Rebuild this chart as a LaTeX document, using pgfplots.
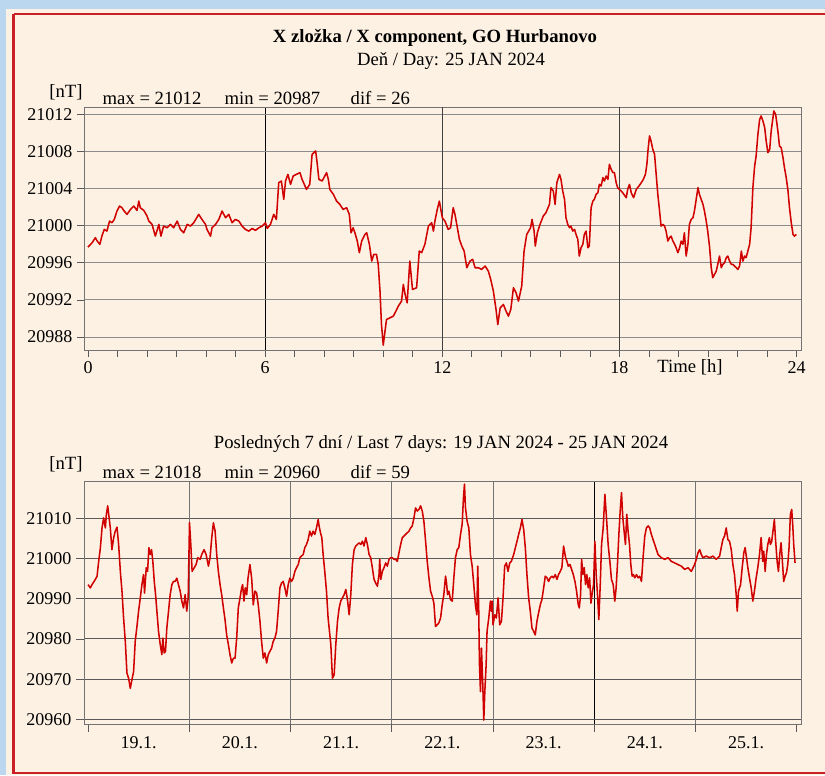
\documentclass[border=0pt]{standalone}
\usepackage{fontspec}
\setmainfont{Liberation Serif}
\usepackage{pgfplots}
\pgfplotsset{compat=1.18}
\definecolor{pageblue}{HTML}{BBD6EF}
\definecolor{cream}{HTML}{FDF1E3}
\definecolor{framered}{HTML}{CC2027}
\definecolor{curve}{HTML}{D00000}

\pgfplotsset{
  magplot/.style={
    scale only axis,
    tick align=outside, tick pos=left,
    major tick length=5.25pt, minor tick length=2.25pt,
    axis line style={draw=black!55, line width=0.7pt},
    tick style={draw=black!65, line width=0.6pt},
    ymajorgrids, major grid style={draw=black!45, line width=0.7pt},
    xminorgrids, minor grid style={draw=black, line width=0.7pt},
    tick label style={font=\fontsize{13.5}{15}\selectfont},
    scaled y ticks=false,
    /pgf/number format/assume math mode=true,
    /pgf/number format/1000 sep={},
    /pgf/number format/fixed, /pgf/number format/precision=0,
    minor y tick num=1,
    no markers
  },
  magline/.style={curve, line width=1.15pt, line join=round}
}

\begin{document}
\begin{tikzpicture}
\begin{scope}[x=0.75pt, y=-0.75pt]
  \fill[pageblue] (0,0) rectangle (825,775);
  \fill[cream] (6,9) rectangle (825,775);
  \draw[framered, line width=1.9pt] (13.5,14) -- (825,14);
  \draw[framered, line width=1.9pt] (13.5,14) -- (13.5,773) -- (825,773);

  \node[font=\bfseries\fontsize{14}{16}\selectfont] at (435,38) {X zložka / X component, GO Hurbanovo};
  \node[font=\fontsize{14}{16}\selectfont] at (451,61) {Deň / Day: 25 JAN 2024};
  \node[font=\fontsize{14}{16}\selectfont] at (66,92) {[nT]};
  \node[font=\fontsize{14}{16}\selectfont, anchor=west] at (98,98) {max = 21012};
  \node[font=\fontsize{14}{16}\selectfont, anchor=west] at (220,98) {min = 20987};
  \node[font=\fontsize{14}{16}\selectfont, anchor=west] at (346,98) {dif = 26};
  \node[font=\fontsize{14}{16}\selectfont] at (690,367) {Time [h]};

  \node[font=\fontsize{14}{16}\selectfont] at (441,444) {Posledných 7 dní / Last 7 days: 19 JAN 2024 - 25 JAN 2024};
  \node[font=\fontsize{14}{16}\selectfont] at (66,464) {[nT]};
  \node[font=\fontsize{14}{16}\selectfont, anchor=west] at (98,472) {max = 21018};
  \node[font=\fontsize{14}{16}\selectfont, anchor=west] at (220,472) {min = 20960};
  \node[font=\fontsize{14}{16}\selectfont, anchor=west] at (346,472) {dif = 59};
\end{scope}

% daily curve
\begin{axis}[magplot,
  at={(84*0.75pt,-350*0.75pt)}, anchor=south west,
  width=537.75pt, height=182.25pt,
  xmin=-0.136, xmax=24.15, ymin=20986.6, ymax=21012.8,
  xtick={0,...,24},
  xticklabels={0,,,,,,6,,,,,,12,,,,,,18,,,,,,24},
  minor xtick={6},
  ytick={20988,20992,...,21012},
  extra x ticks={12,18}, extra x tick labels={},
  extra x tick style={grid=major, major grid style={draw=black!75, line width=0.7pt}},
]
\addplot[magline] coordinates {
(0,20997.70) (0.14,20998.17) (0.25,20998.71) (0.31,20998.35) (0.40,20997.99)
(0.47,20998.88) (0.55,20999.60) (0.64,20999.42) (0.73,21000.50) (0.81,21000.32)
(0.89,21000.68) (0.98,21001.58) (1.07,21002.12) (1.15,21001.94) (1.21,21001.65)
(1.32,21001.22) (1.44,21001.76) (1.55,21002.12) (1.66,21001.65) (1.72,21002.66)
(1.77,21001.94) (1.89,21001.65) (2.00,21001.04) (2.06,21000.50) (2.17,21000.14)
(2.28,20998.88) (2.40,21000.14) (2.47,20998.88) (2.56,20999.96) (2.68,20999.78)
(2.79,21000.14) (2.90,20999.78) (3.02,21000.50) (3.13,20999.60) (3.24,20999.24)
(3.36,21000.14) (3.47,20999.96) (3.58,21000.32) (3.75,21001.22) (3.86,21000.68)
(3.98,21000.14) (4.03,20999.60) (4.15,20998.88) (4.20,20999.78) (4.32,21000.14)
(4.43,21000.68) (4.54,21001.58) (4.66,21000.86) (4.77,21001.22) (4.88,21000.32)
(4.99,21000.68) (5.11,21000.50) (5.22,20999.96) (5.33,20999.60) (5.45,20999.42)
(5.56,20999.71) (5.67,20999.50) (5.79,20999.78) (5.90,20999.96) (6.01,21000.32)
(6.07,20999.71) (6.18,21000.14) (6.29,21001.22) (6.38,21000.68) (6.46,21004.64)
(6.55,21004.82) (6.63,21002.84) (6.69,21004.82) (6.77,21005.54) (6.86,21004.46)
(6.95,21005.36) (7.06,21005.54) (7.18,21005.72) (7.25,21005.00) (7.40,21003.92)
(7.51,21004.46) (7.59,21007.70) (7.71,21008.06) (7.76,21006.80) (7.82,21005.00)
(7.93,21004.82) (8.08,21005.72) (8.14,21005.00) (8.19,21003.92) (8.31,21003.38)
(8.42,21002.66) (8.53,21002.30) (8.64,21001.76) (8.76,21001.94) (8.85,21001.22)
(8.91,20999.24) (8.98,20999.78) (9.04,20999.24) (9.12,20998.35) (9.19,20997.09)
(9.27,20998.35) (9.38,20999.06) (9.44,20999.24) (9.53,20997.99) (9.61,20996.19)
(9.68,20996.91) (9.77,20996.91) (9.83,20995.83) (9.89,20992.95) (9.94,20989.35)
(10.00,20987.12) (10.06,20988.63) (10.11,20989.89) (10.23,20990.07) (10.34,20990.25)
(10.43,20990.79) (10.51,20991.33) (10.62,20991.87) (10.68,20993.67) (10.74,20992.59)
(10.81,20991.69) (10.90,20996.19) (10.99,20993.13) (11.13,20993.31) (11.22,20997.27)
(11.30,20997.09) (11.41,20997.99) (11.53,20999.96) (11.64,21000.32) (11.70,20999.42)
(11.75,21000.50) (11.83,21001.76) (11.90,21002.66) (11.94,21001.94) (12.00,21000.86)
(12.09,21000.50) (12.20,20999.60) (12.28,20999.78) (12.37,21001.94) (12.43,21001.22)
(12.49,21000.14) (12.58,20998.53) (12.66,20997.81) (12.74,20997.27) (12.83,20995.47)
(12.94,20996.19) (13.03,20996.37) (13.11,20995.47) (13.22,20995.47) (13.33,20995.29)
(13.45,20995.65) (13.56,20995.11) (13.64,20994.21) (13.73,20992.95) (13.82,20990.97)
(13.88,20989.35) (13.96,20991.15) (14.07,20991.51) (14.16,20990.79) (14.24,20990.25)
(14.32,20990.97) (14.41,20993.31) (14.50,20992.77) (14.58,20991.87) (14.69,20993.49)
(14.77,20997.27) (14.86,20999.06) (14.99,20999.78) (15.04,21000.68) (15.11,20999.42)
(15.15,20997.81) (15.22,20999.24) (15.31,21000.14) (15.42,21001.04) (15.51,21001.40)
(15.63,21002.30) (15.68,21004.10) (15.76,21003.74) (15.82,21002.30) (15.88,21004.64)
(15.97,21005.54) (16.02,21005.00) (16.08,21003.74) (16.14,21002.84) (16.19,21000.86)
(16.25,21000.14) (16.31,20999.78) (16.36,20999.96) (16.42,20999.42) (16.48,20999.60)
(16.53,20999.06) (16.59,20998.53) (16.64,20996.73) (16.70,20997.63) (16.76,20997.99)
(16.81,20999.06) (16.87,20999.42) (16.93,20997.63) (16.98,20997.81) (17.04,21001.94)
(17.10,21002.66) (17.15,21002.84) (17.21,21003.38) (17.27,21003.56) (17.32,21004.46)
(17.38,21004.28) (17.44,21005.18) (17.49,21004.82) (17.55,21005.36) (17.61,21005.00)
(17.66,21006.62) (17.72,21006.08) (17.78,21005.72) (17.83,21005.72) (17.89,21004.64)
(17.94,21004.10) (18.00,21003.92) (18.06,21003.74) (18.11,21003.56) (18.23,21003.02)
(18.28,21003.92) (18.34,21004.46) (18.40,21003.56) (18.48,21003.02) (18.57,21003.92)
(18.66,21004.28) (18.74,21004.64) (18.81,21005.00) (18.88,21005.54) (18.93,21006.62)
(18.97,21008.24) (19.02,21009.68) (19.07,21009.14) (19.13,21008.24) (19.19,21007.70)
(19.24,21005.72) (19.30,21003.38) (19.36,21001.58) (19.41,20999.96) (19.47,21000.14)
(19.53,20999.96) (19.58,20999.42) (19.64,20998.35) (19.70,20998.71) (19.75,20998.88)
(19.81,20998.35) (19.87,20997.99) (19.92,20997.63) (19.98,20997.09) (20.04,20997.63)
(20.09,20998.35) (20.15,20997.99) (20.20,20999.24) (20.26,20996.73) (20.32,20997.99)
(20.37,21000.14) (20.43,21000.68) (20.49,21000.86) (20.54,21001.58) (20.60,21002.84)
(20.66,21004.10) (20.71,21003.38) (20.77,21002.84) (20.83,21002.30) (20.88,21001.58)
(20.94,21000.50) (20.99,20999.42) (21.05,20997.81) (21.11,20995.47) (21.16,20994.39)
(21.22,20994.75) (21.28,20995.11) (21.33,20995.83) (21.39,20996.73) (21.45,20995.47)
(21.50,20995.83) (21.56,20996.01) (21.62,20996.55) (21.67,20996.73) (21.73,20996.19)
(21.79,20995.83) (21.84,20995.83) (21.90,20995.65) (21.96,20995.47) (22.01,20995.29)
(22.07,20995.65) (22.13,20997.27) (22.18,20996.19) (22.24,20996.73) (22.29,20996.55)
(22.35,20997.27) (22.41,20997.99) (22.46,20999.78) (22.52,21004.10) (22.58,21006.44)
(22.63,21007.52) (22.69,21009.86) (22.75,21011.47) (22.80,21011.83) (22.86,21011.29)
(22.92,21010.58) (22.97,21009.14) (23.03,21007.88) (23.09,21008.24) (23.14,21010.22)
(23.20,21011.65) (23.23,21012.37) (23.29,21012.01) (23.33,21011.11) (23.38,21009.86)
(23.42,21008.60) (23.48,21008.42) (23.54,21007.34) (23.59,21006.26) (23.65,21005.18)
(23.71,21003.74) (23.76,21001.94) (23.82,21000.32) (23.88,20999.06) (23.93,20998.88)
(23.99,20999.06)
};
\end{axis}

% last 7 days
\begin{axis}[magplot,
  at={(84*0.75pt,-724*0.75pt)}, anchor=south west,
  width=537.75pt, height=182.25pt,
  xmin=-0.04, xmax=7.042, ymin=20958.83, ymax=21019.28,
  xtick={0,...,7},
  xticklabels={19.1.,20.1.,21.1.,22.1.,23.1.,24.1.,25.1.,},
  xticklabel style={xshift=37.95pt},
  major tick length=6pt,
  minor xtick={5},
  ytick={20960,20970,...,21010},
  major grid style={draw=black!65, line width=0.75pt},
  extra x ticks={1,2,3,4,6}, extra x tick labels={},
  extra x tick style={grid=major, major grid style={draw=black!55, line width=0.7pt}},
]
\addplot[magline] coordinates {
(0,20993.5) (0.023,20992.7) (0.039,20993.5) (0.072,20994.8) (0.089,20995.6)
(0.105,20999.3) (0.122,21002.7) (0.138,21007.6) (0.154,21010.1) (0.171,21007.6)
(0.181,21011.0) (0.194,21013.1) (0.204,21011.0) (0.220,21007.6) (0.236,21002.2)
(0.253,21005.2) (0.269,21006.8) (0.286,21007.8) (0.302,21003.5) (0.319,20996.8)
(0.335,20991.9) (0.351,20985.2) (0.368,20979.4) (0.384,20971.5) (0.401,20970.2)
(0.417,20967.7) (0.433,20969.8) (0.450,20971.9) (0.466,20979.4) (0.483,20983.1)
(0.499,20986.9) (0.516,20990.2) (0.532,20993.5) (0.548,20996.0) (0.558,20991.4)
(0.575,20997.7) (0.588,20996.8) (0.601,21002.7) (0.614,21001.0) (0.627,21002.2)
(0.640,20999.3) (0.654,20994.3) (0.667,20991.0) (0.680,20986.9) (0.696,20981.9)
(0.713,20978.6) (0.729,20976.1) (0.739,20980.2) (0.752,20976.5) (0.765,20976.9)
(0.778,20982.7) (0.795,20986.9) (0.811,20991.0) (0.828,20993.5) (0.844,20994.3)
(0.860,20994.3) (0.877,20995.1) (0.893,20993.5) (0.910,20991.9) (0.926,20989.4)
(0.943,20987.7) (0.959,20991.0) (0.975,20986.9) (0.989,20990.2) (1.002,21008.9)
(1.015,21003.5) (1.028,20996.8) (1.048,20997.7) (1.067,20998.5) (1.084,21000.2)
(1.107,20999.8) (1.123,21001.0) (1.146,21002.2) (1.166,21001.0) (1.189,20998.1)
(1.205,21000.2) (1.222,21005.2) (1.238,21008.9) (1.255,21006.8) (1.271,21001.0)
(1.287,20996.8) (1.304,20993.5) (1.320,20991.0) (1.337,20987.7) (1.353,20984.8)
(1.369,20981.0) (1.386,20978.6) (1.402,20976.1) (1.419,20974.0) (1.435,20975.2)
(1.452,20975.2) (1.468,20980.2) (1.484,20987.7) (1.501,20990.2) (1.517,20992.7)
(1.527,20993.5) (1.540,20989.4) (1.553,20992.7) (1.567,20991.0) (1.580,20995.1)
(1.599,20998.5) (1.616,20995.1) (1.632,20988.5) (1.649,20991.9) (1.665,20991.4)
(1.681,20988.5) (1.698,20984.4) (1.714,20979.4) (1.731,20975.2) (1.747,20976.5)
(1.764,20974.0) (1.780,20976.1) (1.796,20976.9) (1.813,20977.7) (1.829,20979.4)
(1.846,20980.2) (1.862,20981.9) (1.878,20986.9) (1.895,20992.7) (1.911,20993.9)
(1.928,20994.3) (1.944,20992.7) (1.961,20990.6) (1.977,20993.5) (1.993,20995.1)
(2.010,20994.3) (2.026,20995.1) (2.043,20996.8) (2.059,20997.7) (2.076,20998.5)
(2.092,21000.2) (2.108,21000.6) (2.125,21001.0) (2.141,21002.7) (2.158,21003.5)
(2.174,21004.7) (2.190,21006.8) (2.207,21005.6) (2.223,21006.8) (2.240,21006.0)
(2.256,21007.6) (2.273,21009.7) (2.282,21008.1) (2.296,21006.4) (2.309,21005.2)
(2.322,21001.0) (2.338,20996.8) (2.355,20991.9) (2.371,20985.2) (2.398,20978.6)
(2.414,20970.2) (2.431,20971.1) (2.447,20978.6) (2.464,20984.4) (2.480,20987.7)
(2.496,20989.4) (2.513,20990.2) (2.529,20991.0) (2.546,20992.3) (2.562,20989.8)
(2.579,20986.0) (2.595,20991.0) (2.611,20998.5) (2.628,21002.2) (2.644,21003.1)
(2.661,21003.5) (2.677,21003.9) (2.694,21003.5) (2.710,21004.3) (2.726,21003.1)
(2.743,21005.2) (2.759,21003.5) (2.776,21001.0) (2.792,21000.2) (2.808,20997.7)
(2.825,20994.8) (2.841,20993.9) (2.858,20993.1) (2.874,20996.0) (2.881,20999.8)
(2.891,20994.8) (2.907,20996.8) (2.923,20997.7) (2.940,20998.9) (2.956,20998.1)
(2.973,20999.8) (2.989,21000.2) (3.005,21000.2) (3.022,20999.8) (3.038,20999.8)
(3.055,20999.3) (3.071,21001.4) (3.088,21003.5) (3.104,21005.2) (3.120,21005.6)
(3.137,21006.0) (3.153,21006.4) (3.170,21006.8) (3.186,21007.6) (3.202,21008.1)
(3.219,21010.1) (3.235,21012.6) (3.252,21011.8) (3.268,21012.2) (3.285,21013.1)
(3.301,21011.8) (3.317,21009.3) (3.334,21004.3) (3.350,20999.3) (3.367,20995.2)
(3.383,20991.9) (3.400,20990.6) (3.416,20988.9) (3.432,20983.1) (3.449,20983.5)
(3.465,20984.0) (3.482,20985.2) (3.498,20988.5) (3.514,20991.0) (3.531,20995.6)
(3.541,20993.9) (3.551,20991.0) (3.564,20991.9) (3.580,20989.8) (3.597,20989.4)
(3.613,20995.2) (3.629,21000.2) (3.646,21002.2) (3.662,21002.7) (3.679,21006.0)
(3.695,21008.5) (3.708,21015.1) (3.718,21018.5) (3.728,21012.6) (3.744,21009.3)
(3.761,21007.6) (3.777,21001.0) (3.794,20998.1) (3.810,20993.5) (3.826,20988.5)
(3.840,20986.0) (3.849,20998.1) (3.859,20986.9) (3.866,20973.6) (3.876,20966.9)
(3.886,20977.7) (3.899,20968.6) (3.909,20959.8) (3.919,20966.9) (3.932,20973.6)
(3.941,20981.9) (3.958,20985.2) (3.974,20989.4) (3.984,20986.9) (3.991,20989.4)
(4.000,20983.5) (4.017,20986.0) (4.033,20985.2) (4.050,20990.2) (4.066,20983.5)
(4.083,20984.4) (4.099,20990.2) (4.115,20998.1) (4.132,20998.9) (4.148,20996.8)
(4.165,20998.9) (4.181,20999.3) (4.204,21001.0) (4.221,21002.7) (4.237,21004.3)
(4.253,21006.0) (4.270,21007.6) (4.286,21009.7) (4.303,21007.2) (4.319,21002.7)
(4.335,20996.0) (4.352,20990.2) (4.368,20986.9) (4.385,20982.7) (4.401,20981.9)
(4.417,20981.0) (4.434,20984.4) (4.450,20986.5) (4.467,20988.5) (4.483,20989.8)
(4.500,20992.7) (4.516,20995.6) (4.533,20995.2) (4.549,20994.3) (4.565,20995.2)
(4.582,20995.6) (4.598,20995.2) (4.615,20996.0) (4.631,20994.8) (4.647,20996.0)
(4.664,20996.8) (4.680,20997.7) (4.697,21003.1) (4.717,21000.2) (4.730,20999.3)
(4.743,20998.1) (4.760,20998.5) (4.776,20997.3) (4.793,20996.0) (4.809,20994.3)
(4.825,20991.9) (4.842,20988.5) (4.852,20987.7) (4.865,20991.0) (4.875,20999.8)
(4.888,20996.0) (4.901,20997.7) (4.914,20993.5) (4.927,20996.0) (4.940,20992.7)
(4.954,20995.2) (4.967,20988.9) (4.980,20991.4) (4.993,20993.5) (5.006,21004.3)
(5.019,20996.0) (5.032,20991.0) (5.045,20984.8) (5.059,20993.5) (5.072,21003.5)
(5.088,21007.6) (5.105,21016.0) (5.121,21010.1) (5.137,21003.5) (5.154,20999.3)
(5.170,20994.8) (5.187,20993.5) (5.203,20989.4) (5.216,20992.7) (5.229,20998.5)
(5.243,21006.0) (5.256,21011.8) (5.269,21016.4) (5.282,21010.1) (5.295,21006.8)
(5.308,21003.5) (5.321,21011.0) (5.334,21006.8) (5.348,21003.5) (5.361,20998.5)
(5.374,20995.6) (5.387,20996.0) (5.400,20995.2) (5.417,20996.0) (5.433,20995.2)
(5.449,20995.6) (5.466,20994.3) (5.482,21000.2) (5.499,21005.6) (5.515,21007.6)
(5.532,21008.1) (5.548,21007.6) (5.564,21006.0) (5.581,21004.7) (5.597,21003.5)
(5.614,21002.2) (5.630,21001.0) (5.646,21000.6) (5.663,21000.2) (5.696,20999.8)
(5.729,21000.2) (5.761,20999.3) (5.794,20998.9) (5.827,20998.5) (5.860,20998.1)
(5.893,20997.3) (5.926,20997.7) (5.959,20996.8) (5.991,20998.5) (6.008,20999.8)
(6.024,21001.4) (6.041,21002.2) (6.057,21001.0) (6.073,21000.2) (6.106,21000.6)
(6.139,21000.2) (6.172,21000.6) (6.205,20999.8) (6.238,21000.6) (6.254,21002.7)
(6.270,21004.7) (6.287,21005.6) (6.303,21007.6) (6.320,21004.7) (6.336,21004.3)
(6.353,21002.2) (6.369,20998.5) (6.385,20996.0) (6.402,20991.0) (6.412,20986.9)
(6.425,20991.9) (6.445,20993.5) (6.461,20997.7) (6.477,21001.4) (6.490,21002.7)
(6.504,21000.2) (6.517,20997.7) (6.533,20995.2) (6.550,20992.7) (6.566,20989.4)
(6.582,20991.9) (6.599,20995.2) (6.615,20997.7) (6.632,21001.0) (6.648,21005.2)
(6.664,20999.3) (6.674,21001.8) (6.688,20996.8) (6.701,21001.0) (6.714,21003.5)
(6.730,21005.2) (6.740,21003.5) (6.753,21004.3) (6.763,21006.4) (6.779,21009.7)
(6.789,21005.2) (6.806,20999.3) (6.819,20996.8) (6.832,21001.0) (6.845,21003.9)
(6.858,20999.3) (6.871,20994.3) (6.885,20995.6) (6.898,20996.4) (6.911,20998.5)
(6.924,21002.7) (6.937,21011.0) (6.950,21012.2) (6.960,21008.5) (6.970,21003.5)
(6.983,20998.9)
};
\end{axis}
\pgfresetboundingbox
\useasboundingbox (0,0) rectangle (618.75pt,-581.25pt);
\end{tikzpicture}
\end{document}
